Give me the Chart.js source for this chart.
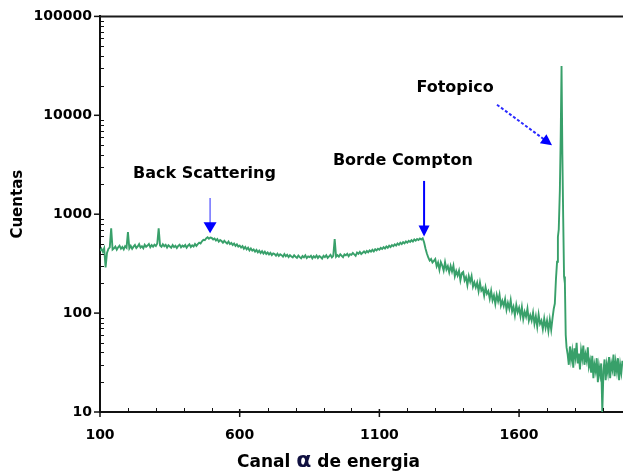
<!DOCTYPE html>
<html><head><meta charset="utf-8">
<script src="https://cdn.jsdelivr.net/npm/chart.js@4.4.1/dist/chart.umd.min.js"></script>
<style>html,body{margin:0;padding:0;background:#fff;}#wrap{width:623px;height:472px;position:relative;}</style>
</head><body><div id="wrap"><canvas id="c"></canvas></div>
<script>
// ---- data ----
const channels = [
 100,105,110,115,120,125,130,135,140,145,150,155,160,165,170,175,180,185,190,195,
 200,205,210,215,220,225,230,235,240,245,250,255,260,265,270,275,280,285,290,295,
 300,305,310,315,320,325,330,335,340,345,350,355,360,365,370,375,380,385,390,395,
 400,405,410,415,420,425,430,435,440,445,450,455,460,465,470,475,480,485,490,495,
 500,505,510,515,520,525,530,535,540,545,550,555,560,565,570,575,580,585,590,595,
 600,605,610,615,620,625,630,635,640,645,650,655,660,665,670,675,680,685,690,695,
 700,705,710,715,720,725,730,735,740,745,750,755,760,765,770,775,780,785,790,795,
 800,805,810,815,820,825,830,835,840,845,850,855,860,865,870,875,880,885,890,895,
 900,905,910,915,920,925,930,935,940,945,950,955,960,965,970,975,980,985,990,995,
 1000,1005,1010,1015,1020,1025,1030,1035,1040,1045,1050,1055,1060,1065,1070,1075,1080,1085,1090,1095,
 1100,1105,1110,1115,1120,1125,1130,1135,1140,1145,1150,1155,1160,1165,1170,1175,1180,1185,1190,1195,
 1200,1205,1210,1215,1220,1225,1230,1235,1240,1245,1250,1255,1260,1265,1270,1275,1280,1285,1290,1295,
 1300,1305,1310,1315,1320,1325,1330,1335,1340,1345,1350,1355,1360,1365,1370,1375,1380,1385,1390,1395,
 1400,1405,1410,1415,1420,1425,1430,1435,1440,1445,1450,1455,1460,1465,1470,1475,1480,1485,1490,1495,
 1500,1505,1510,1515,1520,1525,1530,1535,1540,1545,1550,1555,1560,1565,1570,1575,1580,1585,1590,1595,
 1600,1605,1610,1615,1620,1625,1630,1635,1640,1645,1650,1655,1660,1665,1670,1675,1680,1685,1690,1695,
 1700,1705,1710,1715,
 1720,1724,1728,1732,1736,1739,1742,1746,1749,1752,1755,1758,1761,1764,1767,1770,
 1774,1778,1782,1786,1790,1794,1798,1802,1806,1810,1814,1818,1822,1826,1830,1834,1838,1842,1846,1850,
 1854,1858,1862,1866,1870,1874,1878,1882,1886,1890,1894,1898,
 1902,1906,1910,1914,1918,1922,1926,1930,1934,1938,1942,1946,1950,1954,1958,1962,1966,1970
];
const counts = [
 425,448,418,452,290,405,446,462,720,440, 452,470,438,462,480,447,466,440,475,458,
 660,452,478,446,470,488,455,472,498,460, 475,452,490,468,482,500,463,488,470,492,
 478,505,720,482,468,497,474,489,460,485, 472,458,488,465,480,455,478,492,462,481,
 470,488,458,480,495,466,485,472,500,478, 498,515,505,532,550,545,570,585,566,580,
 575,556,568,542,560,528,548,535,515,538, 520,505,528,498,512,488,505,478,495,470,
 482,460,476,448,466,441,458,430,450,428, 440,418,435,412,428,405,422,400,418,396,
 410,392,406,386,402,395,380,398,378,393, 385,372,395,376,388,368,385,374,366,384,
 372,362,381,368,358,378,366,383,360,374, 368,380,358,376,365,382,360,377,369,356,
 380,368,385,362,374,388,366,380,560,372, 386,372,393,380,368,392,384,398,376,394,
 388,405,392,380,410,398,415,396,408,420, 405,425,412,430,418,436,420,442,430,448,
 438,456,445,464,450,472,458,480,466,488, 475,496,482,505,490,514,498,522,508,530,
 515,538,524,546,530,555,540,562,548,568, 555,570,520,450,400,365,340,352,325,338,
 352,297,324,274,328,303,269,327,276,298, 258,300,263,301,236,267,240,268,215,253,
 261,214,231,192,237,208,237,185,205,182, 203,167,204,169,179,150,183,157,167,140,
 168,135,151,124,153,132,154,119,133,118, 138,108,127,111,135,104,116,95,121,102,
 113,93,115,87,103,92,111,84,95,84, 101,78,93,73,97,78,84,69,88,71,
 84,66,86,68,
 90,110,125,220,330,590,700,1750,6000,31500,4000,900,235,200,60,45,
 38,30,46,34,41,28,44,36,50,31,39,27,42,35,47,30,38,33,45,29,
 33,25,37,22,30,26,35,20,29,24,31,10,
 26,34,21,30,25,36,22,31,27,38,23,32,26,35,21,30,25,33
];
const xMajorTicks = [100, 600, 1100, 1600];
const xMinorTicks = [200,300,400,500,700,800,900,1000,1200,1300,1400,1500,1700,1800,1900];
const yMajorTicks = [10, 100, 1000, 10000, 100000];
const yMinorFactors = [2,3,4,5,6,7,8,9];
const xTitleA = 'Canal ', xTitleAlpha = 'α', xTitleB = ' de energia';
const yTitle = 'Cuentas';
const annLabels = ['Back Scattering', 'Borde Compton', 'Fotopico'];
const annLabelAt = [[474, 2560], [1184, 3460], [1371, 18960]];
const annArrowFrom = [[494, 1460], [1260, 2170], [1521, 12800]];
const annArrowTo = [[494, 640], [1260, 595], [1718, 4980]];

const FONT = "'DejaVu Sans', 'Liberation Sans', sans-serif";
const points = channels.map((c, i) => ({x: c, y: counts[i]}));

function arrowHead(ctx, x1, y1, x2, y2, len, half) {
  const ang = Math.atan2(y2 - y1, x2 - x1);
  ctx.beginPath();
  ctx.moveTo(x2, y2);
  ctx.lineTo(x2 - len * Math.cos(ang) + half * Math.sin(ang), y2 - len * Math.sin(ang) - half * Math.cos(ang));
  ctx.lineTo(x2 - len * Math.cos(ang) - half * Math.sin(ang), y2 - len * Math.sin(ang) + half * Math.cos(ang));
  ctx.closePath();
  ctx.fill();
}

const deco = {
  id: 'deco',
  afterDraw(chart) {
    const {ctx, chartArea: a, scales: {x, y}} = chart;
    ctx.save();
    ctx.strokeStyle = '#1a1a1a';
    ctx.lineWidth = 2;
    ctx.beginPath(); ctx.moveTo(a.left - 1, a.top); ctx.lineTo(a.right, a.top); ctx.stroke();
    ctx.strokeStyle = '#111';
    ctx.lineWidth = 1.5;
    yMajorTicks.forEach(v => {
      const p = y.getPixelForValue(v);
      ctx.beginPath(); ctx.moveTo(a.left - 6, p); ctx.lineTo(a.left, p); ctx.stroke();
    });
    ctx.lineWidth = 1;
    yMajorTicks.slice(0, -1).forEach(d => yMinorFactors.forEach(m => {
      const p = Math.round(y.getPixelForValue(d * m)) + 0.5;
      ctx.beginPath(); ctx.moveTo(a.left, p); ctx.lineTo(a.left + 4, p); ctx.stroke();
    }));
    ctx.lineWidth = 1.5;
    xMajorTicks.forEach(v => {
      const p = x.getPixelForValue(v);
      ctx.beginPath(); ctx.moveTo(p, a.bottom - 3); ctx.lineTo(p, a.bottom + 5); ctx.stroke();
    });
    ctx.lineWidth = 1;
    xMinorTicks.forEach(v => {
      const p = Math.round(x.getPixelForValue(v)) + 0.5;
      ctx.beginPath(); ctx.moveTo(p, a.bottom - 4); ctx.lineTo(p, a.bottom); ctx.stroke();
    });
    ctx.fillStyle = '#000';
    ctx.textBaseline = 'middle';
    ctx.textAlign = 'center';
    ctx.save();
    ctx.translate(18, (a.top + a.bottom) / 2 - 10);
    ctx.rotate(-Math.PI / 2);
    ctx.font = 'bold 15px ' + FONT;
    ctx.fillText(yTitle, 0, 0);
    ctx.restore();
    const fA = 'bold 17px ' + FONT, fAl = 'bold 22px ' + FONT;
    ctx.font = fA; const wA = ctx.measureText(xTitleA).width, wB = ctx.measureText(xTitleB).width;
    ctx.font = fAl; const wAl = ctx.measureText(xTitleAlpha).width;
    const cx = (a.left + a.right) / 2 - 33, cy = a.bottom + 51;
    const sx = cx - (wA + wAl + wB) / 2;
    ctx.textAlign = 'left';
    ctx.font = fA; ctx.fillText(xTitleA, sx, cy);
    ctx.font = fAl; ctx.fillStyle = '#101040'; ctx.fillText(xTitleAlpha, sx + wA, cy - 2);
    ctx.fillStyle = '#000'; ctx.font = fA; ctx.fillText(xTitleB, sx + wA + wAl, cy);
    ctx.textAlign = 'center';
    ctx.font = 'bold 16px ' + FONT;
    annLabels.forEach((t, i) => {
      ctx.fillText(t, x.getPixelForValue(annLabelAt[i][0]), y.getPixelForValue(annLabelAt[i][1]));
    });
    ctx.fillStyle = '#0000ff';
    annArrowFrom.forEach((f, i) => {
      const x1 = x.getPixelForValue(f[0]), y1 = y.getPixelForValue(f[1]);
      const x2 = x.getPixelForValue(annArrowTo[i][0]), y2 = y.getPixelForValue(annArrowTo[i][1]);
      ctx.save();
      if (i === 0) { ctx.strokeStyle = '#4b4bff'; ctx.lineWidth = 1.2; }
      else if (i === 1) { ctx.strokeStyle = '#0000ff'; ctx.lineWidth = 2; }
      else { ctx.strokeStyle = '#2a2aff'; ctx.lineWidth = 2; ctx.setLineDash([3, 2]); }
      const len = 11, half = i === 0 ? 6.5 : 5.5;
      const ang = Math.atan2(y2 - y1, x2 - x1);
      ctx.beginPath(); ctx.moveTo(x1, y1);
      ctx.lineTo(x2 - (len - 2) * Math.cos(ang), y2 - (len - 2) * Math.sin(ang)); ctx.stroke();
      ctx.restore();
      arrowHead(ctx, x1, y1, x2, y2, len, half);
    });
    ctx.restore();
  }
};

new Chart(document.getElementById('c'), {
  type: 'line',
  data: { datasets: [{
    data: points,
    borderColor: '#38a06a',
    borderWidth: 1.9,
    pointRadius: 0,
    tension: 0,
    fill: false
  }]},
  options: {
    responsive: true,
    maintainAspectRatio: false,
    animation: false,
    events: [],
    layout: { padding: { top: 13, right: 0, left: 0, bottom: 0 } },
    plugins: { legend: { display: false }, tooltip: { enabled: false } },
    scales: {
      x: {
        type: 'linear', min: 100, max: 1972,
        afterBuildTicks: s => { s.ticks = xMajorTicks.map(v => ({value: v})); },
        afterFit: s => { s.height = 60; },
        grid: { display: false, drawTicks: false },
        border: { display: true, color: '#111', width: 2 },
        ticks: { color: '#000', font: { family: FONT, size: 14, weight: 'bold' }, padding: 15, maxRotation: 0, autoSkip: false,
          callback: v => String(v) }
      },
      y: {
        type: 'logarithmic', min: 10, max: 100000,
        afterBuildTicks: s => { s.ticks = yMajorTicks.map(v => ({value: v})); },
        afterFit: s => { s.width = 100; },
        grid: { display: false, drawTicks: false },
        border: { display: true, color: '#111', width: 2 },
        ticks: { color: '#000', font: { family: FONT, size: 14, weight: 'bold' }, padding: 8, autoSkip: false,
          callback: v => String(v) }
      }
    }
  },
  plugins: [deco]
});
</script>
</body></html>
